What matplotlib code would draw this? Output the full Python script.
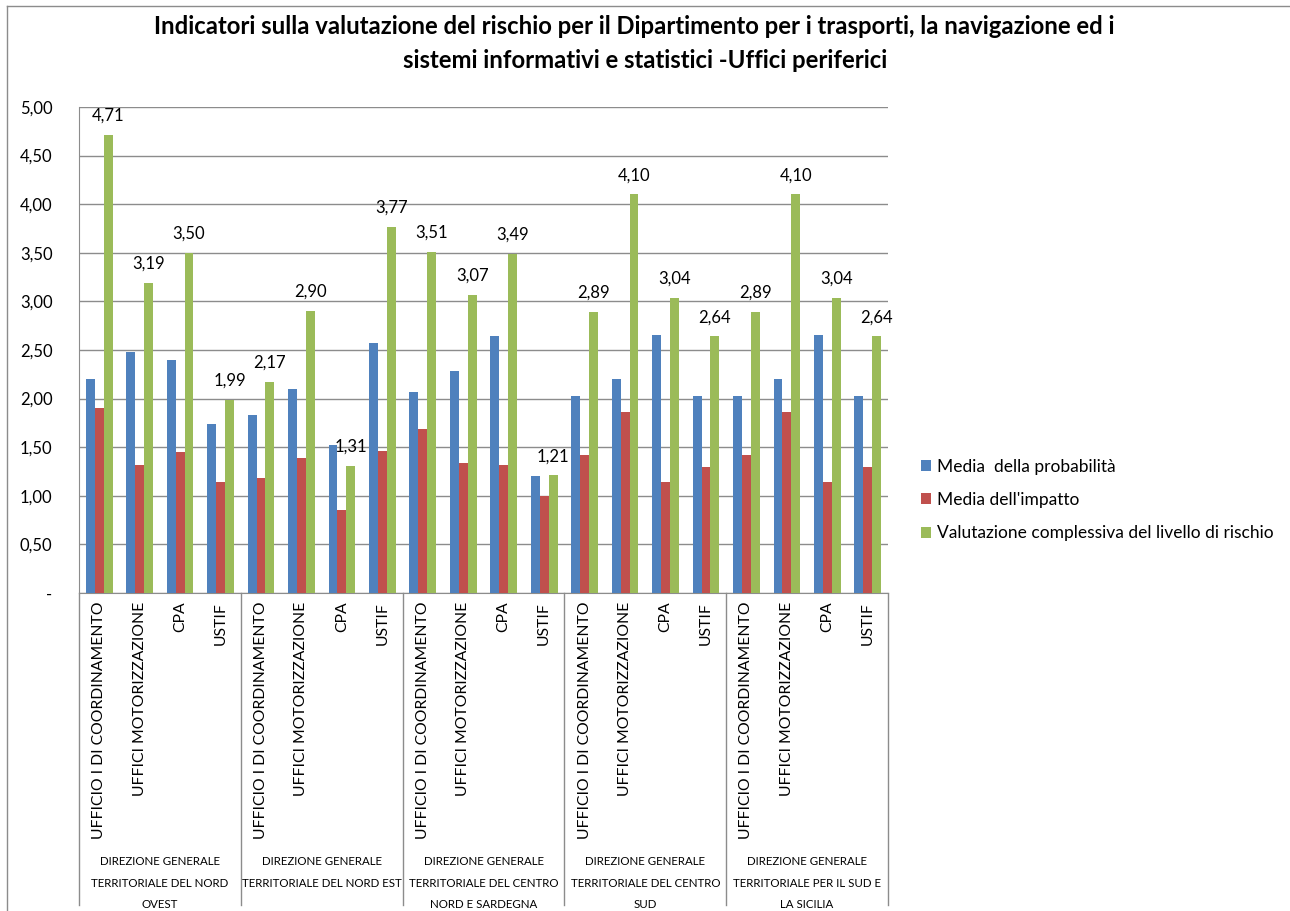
import matplotlib
matplotlib.use("Agg")
import matplotlib.pyplot as plt
import numpy as np
from matplotlib.transforms import blended_transform_factory

plt.rcParams['font.family'] = ['Lato', 'DejaVu Sans']

offices = ["UFFICIO I DI COORDINAMENTO", "UFFICI MOTORIZZAZIONE", "CPA", "USTIF"]
groups = ["DIREZIONE GENERALE\nTERRITORIALE DEL NORD\nOVEST",
          "DIREZIONE GENERALE\nTERRITORIALE DEL NORD EST",
          "DIREZIONE GENERALE\nTERRITORIALE DEL CENTRO\nNORD E SARDEGNA",
          "DIREZIONE GENERALE\nTERRITORIALE DEL CENTRO\nSUD",
          "DIREZIONE GENERALE\nTERRITORIALE PER IL SUD E\nLA SICILIA"]
categories = offices * len(groups)

probabilita = [2.20, 2.48, 2.40, 1.74,
               1.83, 2.10, 1.52, 2.57,
               2.07, 2.28, 2.64, 1.20,
               2.03, 2.20, 2.65, 2.03,
               2.03, 2.20, 2.65, 2.03]
impatto = [1.90, 1.32, 1.45, 1.14,
           1.18, 1.39, 0.85, 1.46,
           1.69, 1.34, 1.32, 1.00,
           1.42, 1.86, 1.14, 1.30,
           1.42, 1.86, 1.14, 1.30]
valutazione = [4.71, 3.19, 3.50, 1.99,
               2.17, 2.90, 1.31, 3.77,
               3.51, 3.07, 3.49, 1.21,
               2.89, 4.10, 3.04, 2.64,
               2.89, 4.10, 3.04, 2.64]

series_names = ["Media  della probabilità", "Media dell'impatto",
                "Valutazione complessiva del livello di rischio"]
colors = ["#4F81BD", "#C0504D", "#9BBB59"]
yticks = [0, 0.5, 1.0, 1.5, 2.0, 2.5, 3.0, 3.5, 4.0, 4.5, 5.0]

W, H = 1290, 911
fig = plt.figure(figsize=(W / 100, H / 100), dpi=100)
ax = fig.add_axes([79 / W, (H - 593) / H, 809 / W, 486 / H])

x = np.arange(len(categories))
bw = 0.22
bars = []
for i, (vals, c, name) in enumerate(zip([probabilita, impatto, valutazione], colors, series_names)):
    b = ax.bar(x + (i - 1) * bw, vals, bw, color=c, label=name, zorder=3)
    bars.append(b)

ax.bar_label(bars[2], labels=[f"{v:.2f}".replace('.', ',') for v in valutazione],
             padding=8, fontsize=12, zorder=4)

ax.set_xlim(-0.5, len(categories) - 0.5)
ax.set_ylim(0, 5)
ax.set_yticks(yticks)
ax.set_yticklabels(["-" if v == 0 else f"{v:.2f}".replace('.', ',') for v in yticks], fontsize=12)
ax.tick_params(axis='y', length=0, pad=19)
ax.yaxis.grid(True, color='#8c8c8c', linewidth=1.0, zorder=0)
ax.set_axisbelow(True)
for s in ['top', 'right']:
    ax.spines[s].set_visible(False)
ax.spines['left'].set_color('#8c8c8c')
ax.spines['bottom'].set_color('#8c8c8c')

ax.set_xticks(x)
ax.set_xticklabels([])
ax.tick_params(axis='x', length=0)

trans = blended_transform_factory(ax.transData, ax.transAxes)
for xi, lab in zip(x, categories):
    ax.text(xi, -0.018, lab, rotation=90, ha='center', va='top', fontsize=11.3,
            transform=trans, clip_on=False)

n = len(offices)
for gi, g in enumerate(groups):
    ax.plot([gi * n - 0.5, gi * n - 0.5], [0, -0.642], color='#8c8c8c', lw=1,
            transform=trans, clip_on=False)
    ax.text(gi * n + (n - 1) / 2, -0.542, g, ha='center', va='top', fontsize=8.3,
            linespacing=2.15, transform=trans, clip_on=False)
ax.plot([len(categories) - 0.5] * 2, [0, -0.642], color='#8c8c8c', lw=1,
        transform=trans, clip_on=False)

leg = ax.legend(loc='center left', bbox_to_anchor=(914 / W, (H - 500) / H),
                bbox_transform=fig.transFigure, frameon=False, fontsize=12.5,
                handlelength=0.6, handleheight=0.6, handletextpad=0.3,
                labelspacing=1.0, borderaxespad=0)

fig.text(634 / W, 1 - 27 / H,
         "Indicatori sulla valutazione del rischio per il Dipartimento per i trasporti, la navigazione ed i",
         ha='center', va='center', fontsize=17.2, fontweight='bold')
fig.text(645 / W, 1 - 60 / H,
         "sistemi informativi e statistici -Uffici periferici",
         ha='center', va='center', fontsize=17.2, fontweight='bold')

# chart area border
fig.add_artist(plt.Line2D([7 / W, 7 / W], [0, 1 - 6 / H], color='#8c8c8c', lw=1, transform=fig.transFigure))
fig.add_artist(plt.Line2D([7 / W, 1], [1 - 6 / H, 1 - 6 / H], color='#8c8c8c', lw=1, transform=fig.transFigure))

fig.savefig("out.png", dpi=100)
